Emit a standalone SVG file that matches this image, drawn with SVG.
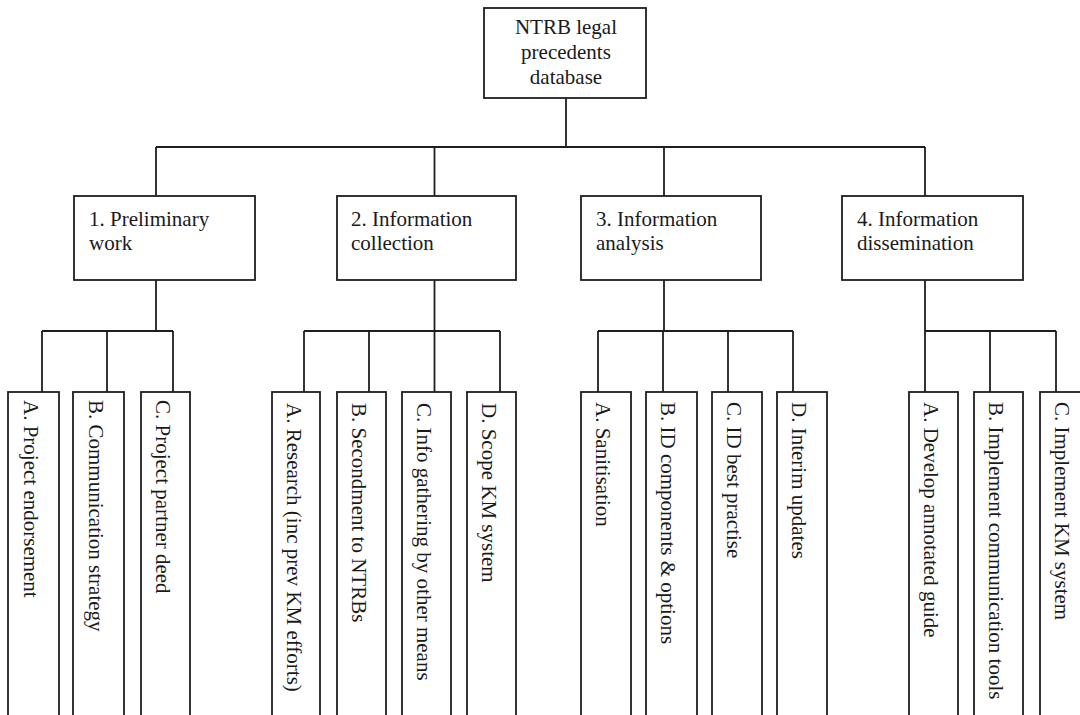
<svg xmlns="http://www.w3.org/2000/svg" width="1080" height="715" viewBox="0 0 1080 715">
<style>
.box{fill:#fff;stroke:#1e1e1e;stroke-width:1.8}
.ln{fill:none;stroke:#1e1e1e;stroke-width:1.8}
text{font-family:"Liberation Serif","Times New Roman",serif;font-size:21px;fill:#1a1a1a}
.c{text-anchor:middle}
</style>
<rect x="0" y="0" width="1080" height="715" fill="#fff"/>
<g id="connectors" class="ln">
<path d="M566 98V147M156 147H925M156 147V196M434.5 147V196M664 147V196M925 147V196"/>
<path d="M156 280V331M42 331H173M42 331V392M107 331V392M173 331V392"/>
<path d="M434.5 280V331M304 331H500M304 331V392M369 331V392M434.5 331V392M500 331V392"/>
<path d="M664 280V331M598 331H793M598 331V392M663 331V392M728 331V392M793 331V392"/>
<path d="M925 280V331M925 331H1056M925 331V392M990 331V392M1056 331V392"/>
</g>
<g id="root"><rect class="box" x="484" y="8" width="162" height="90"/>
<text class="c" x="566" y="34">NTRB legal</text><text class="c" x="566" y="59">precedents</text><text class="c" x="566" y="84">database</text></g>
<g id="n1"><rect class="box" x="74" y="196" width="181" height="84"/><text x="89" y="226">1. Preliminary</text><text x="89" y="250">work</text></g>
<g id="n2"><rect class="box" x="337" y="196" width="179" height="84"/><text x="351" y="226">2. Information</text><text x="351" y="250">collection</text></g>
<g id="n3"><rect class="box" x="581" y="196" width="180" height="84"/><text x="596" y="226">3. Information</text><text x="596" y="250">analysis</text></g>
<g id="n4"><rect class="box" x="842" y="196" width="181" height="84"/><text x="857" y="226">4. Information</text><text x="857" y="250">dissemination</text></g>
<g id="n1a"><rect class="box" x="8" y="392" width="51" height="330"/><text transform="translate(24,400) rotate(90)">A. Project endorsement</text></g>
<g id="n1b"><rect class="box" x="73" y="392" width="51" height="330"/><text transform="translate(89,400) rotate(90)">B. Communication strategy</text></g>
<g id="n1c"><rect class="box" x="141" y="392" width="49" height="330"/><text transform="translate(156,400) rotate(90)">C. Project partner deed</text></g>
<g id="n2a"><rect class="box" x="272" y="392" width="48" height="330"/><text transform="translate(287,403) rotate(90)">A. Research (inc prev KM efforts)</text></g>
<g id="n2b"><rect class="box" x="337" y="392" width="49" height="330"/><text transform="translate(352,403) rotate(90)">B. Secondment to NTRBs</text></g>
<g id="n2c"><rect class="box" x="402" y="392" width="49" height="330"/><text transform="translate(417,403) rotate(90)">C. Info gathering by other means</text></g>
<g id="n2d"><rect class="box" x="467" y="392" width="49" height="330"/><text transform="translate(482,403) rotate(90)">D. Scope KM system</text></g>
<g id="n3a"><rect class="box" x="581" y="392" width="50" height="330"/><text transform="translate(596,402) rotate(90)">A. Sanitisation</text></g>
<g id="n3b"><rect class="box" x="646" y="392" width="51" height="330"/><text transform="translate(661,402) rotate(90)">B. ID components &amp; options</text></g>
<g id="n3c"><rect class="box" x="712" y="392" width="50" height="330"/><text transform="translate(727,402) rotate(90)">C. ID best practise</text></g>
<g id="n3d"><rect class="box" x="777" y="392" width="50" height="330"/><text transform="translate(792,402) rotate(90)">D. Interim updates</text></g>
<g id="n4a"><rect class="box" x="909" y="392" width="49" height="330"/><text transform="translate(924,402) rotate(90)">A. Develop annotated guide</text></g>
<g id="n4b"><rect class="box" x="974" y="392" width="49" height="330"/><text transform="translate(989,402) rotate(90)">B. Implement communication tools</text></g>
<g id="n4c"><rect class="box" x="1040" y="392" width="50" height="330"/><text transform="translate(1055,402) rotate(90)">C. Implement KM system</text></g>
</svg>
